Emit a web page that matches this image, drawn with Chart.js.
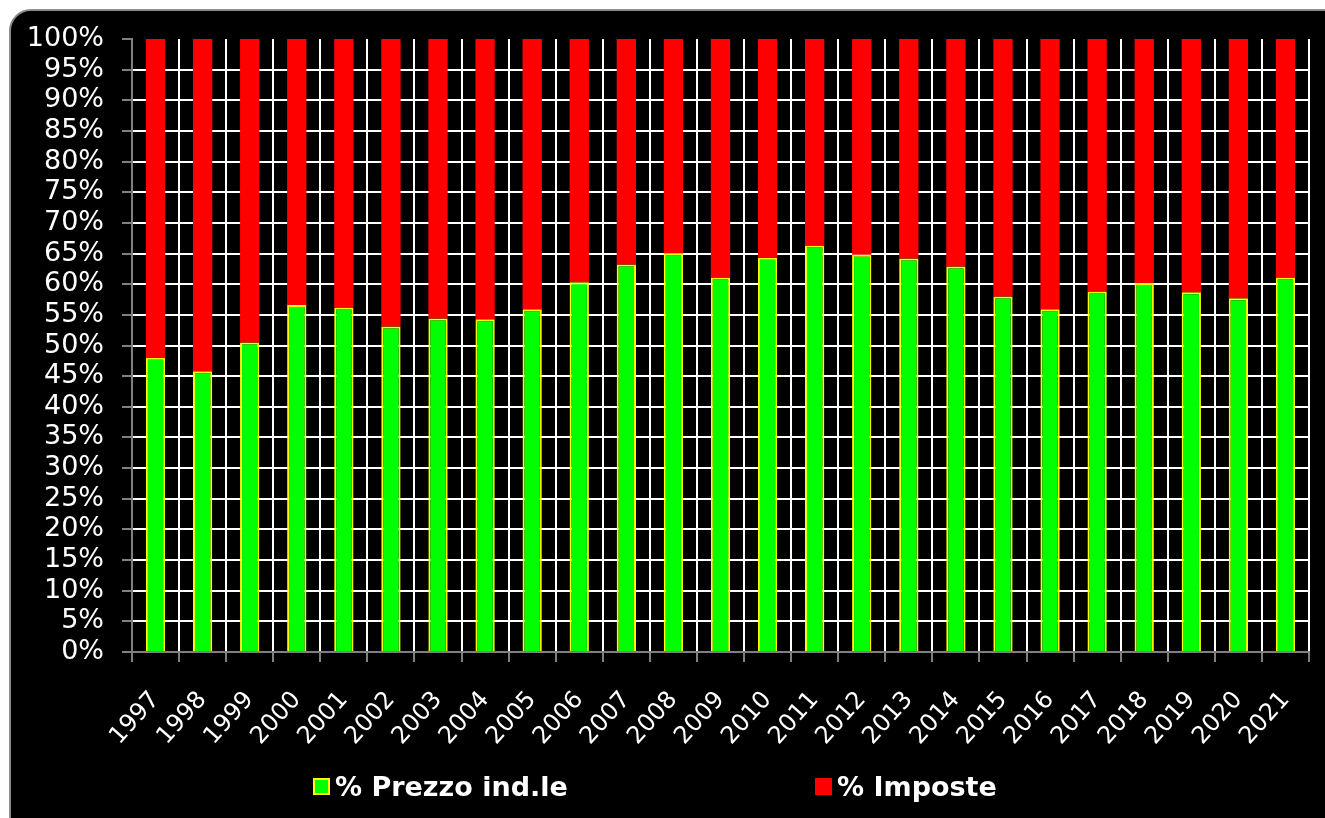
<!DOCTYPE html>
<html>
<head>
<meta charset="utf-8">
<script src="https://cdn.jsdelivr.net/npm/chart.js@4/dist/chart.umd.min.js"></script>
<style>
  html, body { margin: 0; padding: 0; background: #fff; overflow: hidden; width: 1325px; height: 818px; }
  #frame { position: absolute; left: 9px; top: 9px; width: 1340px; height: 840px; background: #000;
           border: 2px solid #8c8c8c; border-radius: 22px; box-sizing: border-box; }
  #chart { position: absolute; left: 0; top: 0; }
  #legend { position: absolute; left: 0; top: 771px; width: 1325px; height: 30px;
            font-family: "DejaVu Sans", Verdana, sans-serif; font-weight: bold; font-size: 27px; color: #fff; }
  .item { position: absolute; top: 0; height: 30px; display: flex; align-items: center; white-space: nowrap; }
  .box { width: 17px; height: 17px; box-sizing: border-box; margin-right: 5px; }
</style>
</head>
<body>
<div id="frame"></div>
<canvas id="chart" width="1325" height="818"></canvas>
<div id="legend"></div>
<script>
// anni
const years = ['1997','1998','1999','2000','2001','2002','2003','2004','2005','2006','2007','2008','2009',
               '2010','2011','2012','2013','2014','2015','2016','2017','2018','2019','2020','2021'];

// quota prezzo industriale (%)
const prezzoInd = [48.0, 45.8, 50.5, 56.6, 56.2, 53.1, 54.4, 54.3, 55.9, 60.3, 63.2, 65.0, 61.1,
                   64.3, 66.3, 64.8, 64.2, 62.9, 58.0, 55.9, 58.8, 60.2, 58.7, 57.7, 61.1];

// quota imposte (%)
const imposte = [52.0, 54.2, 49.5, 43.4, 43.8, 46.9, 45.6, 45.7, 44.1, 39.7, 36.8, 35.0, 38.9,
                 35.7, 33.7, 35.2, 35.8, 37.1, 42.0, 44.1, 41.2, 39.8, 41.3, 42.3, 38.9];

const seriesNames = ['% Prezzo ind.le', '% Imposte'];
const legendLeft = [313, 815];
const fontFamily = "'DejaVu Sans', Verdana, sans-serif";

const ctx = document.getElementById('chart').getContext('2d');

const myChart = new Chart(ctx, {
  type: 'bar',
  data: {
    labels: years,
    datasets: [
      {
        label: seriesNames[0],
        data: prezzoInd,
        backgroundColor: '#00FF00',
        borderColor: '#FFFF00',
        borderWidth: 2,
        barPercentage: 0.41,
        categoryPercentage: 1,
      },
      {
        label: seriesNames[1],
        data: imposte,
        backgroundColor: '#FF0000',
        borderWidth: 0,
        barPercentage: 0.41,
        categoryPercentage: 1,
      },
    ],
  },
  options: {
    responsive: false,
    animation: false,
    layout: {
      padding: { top: 39, right: 16, left: 0, bottom: 0 }
    },
    plugins: {
      legend: { display: false },
      tooltip: { enabled: false },
      title: { display: false },
    },
    scales: {
      x: {
        stacked: true,
        afterFit: function(scale) {
          scale.height = 166;
          scale.paddingLeft = 0;
          scale.paddingRight = 0;
        },
        grid: {
          offset: true,
          color: function(context) {
            if (context.index === 0 || context.index === years.length) return 'rgba(0,0,0,0)';
            return '#FFFFFF';
          },
          lineWidth: 2,
          tickColor: '#808080',
          tickLength: 10,
          tickWidth: 2,
        },
        border: { color: '#808080', width: 2 },
        ticks: {
          color: '#FFFFFF',
          maxRotation: 48,
          minRotation: 48,
          autoSkip: false,
          padding: 24,
          font: { family: fontFamily, size: 24 },
        },
      },
      y: {
        stacked: true,
        min: 0,
        max: 100,
        afterFit: function(scale) { scale.width = 132; },
        grid: {
          color: function(context) {
            if (context.tick && context.tick.value === 100) return 'rgba(0,0,0,0)';
            return '#FFFFFF';
          },
          lineWidth: 2,
          tickColor: '#808080',
          tickLength: 10,
          tickWidth: 2,
        },
        border: { color: '#808080', width: 2 },
        ticks: {
          stepSize: 5,
          autoSkip: false,
          color: '#FFFFFF',
          padding: 18,
          font: { family: fontFamily, size: 27 },
          callback: function(value) { return value + '%'; },
        },
      },
    },
  },
});

// legenda in basso
const legend = document.getElementById('legend');
myChart.data.datasets.forEach(function(ds, i) {
  const item = document.createElement('div');
  item.className = 'item';
  item.style.left = legendLeft[i] + 'px';
  const box = document.createElement('span');
  box.className = 'box';
  box.style.background = ds.backgroundColor;
  if (ds.borderWidth) box.style.border = ds.borderWidth + 'px solid ' + ds.borderColor;
  const txt = document.createElement('span');
  txt.textContent = ds.label;
  item.appendChild(box);
  item.appendChild(txt);
  legend.appendChild(item);
});
</script>
</body>
</html>
